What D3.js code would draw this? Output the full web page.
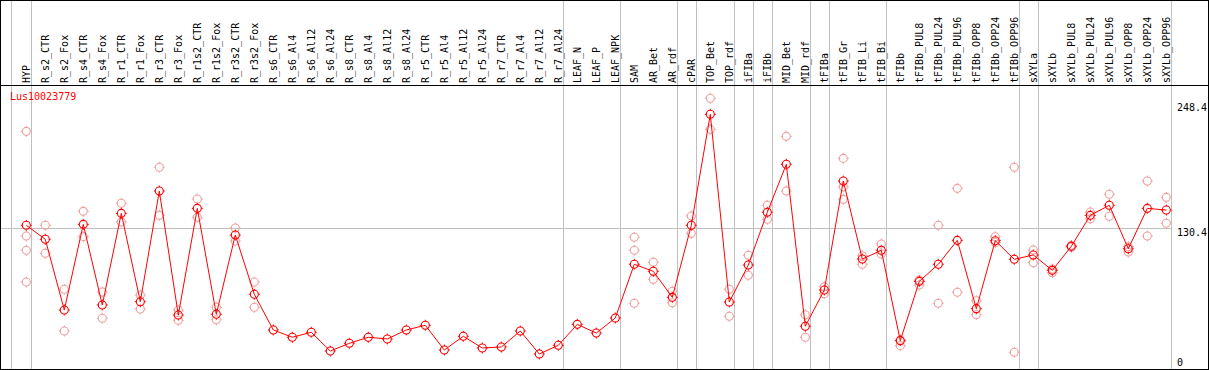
<!DOCTYPE html>
<html>
<head>
<meta charset="utf-8">
<script src="https://cdn.jsdelivr.net/npm/d3@7"></script>
<style>
  body { margin: 0; background: #fff; }
  text { font-family: "DejaVu Sans Mono", monospace; font-size: 10px; }
</style>
</head>
<body>
<div id="chart"></div>
<script>
var geneName = "Lus10023779";

var categories = ["HYP", "R_s2_CTR", "R_s2_Fox", "R_s4_CTR", "R_s4_Fox", "R_r1_CTR", "R_r1_Fox",
  "R_r3_CTR", "R_r3_Fox", "R_r1s2_CTR", "R_r1s2_Fox", "R_r3s2_CTR", "R_r3s2_Fox",
  "R_s6_CTR", "R_s6_Al4", "R_s6_Al12", "R_s6_Al24", "R_s8_CTR", "R_s8_Al4", "R_s8_Al12", "R_s8_Al24",
  "R_r5_CTR", "R_r5_Al4", "R_r5_Al12", "R_r5_Al24", "R_r7_CTR", "R_r7_Al4", "R_r7_Al12", "R_r7_Al24",
  "LEAF_N", "LEAF_P", "LEAF_NPK", "SAM", "AR_Bet", "AR_rdf", "cPAR", "TOP_Bet", "TOP_rdf",
  "iFIBa", "iFIBb", "MID_Bet", "MID_rdf", "tFIBa", "tFIB_Gr", "tFIB_Li", "tFIB_Bi", "tFIBb",
  "tFIBb_PUL8", "tFIBb_PUL24", "tFIBb_PUL96", "tFIBb_OPP8", "tFIBb_OPP24", "tFIBb_OPP96",
  "sXYLa", "sXYLb", "sXYLb_PUL8", "sXYLb_PUL24", "sXYLb_PUL96", "sXYLb_OPP8", "sXYLb_OPP24", "sXYLb_OPP96"];

// mean expression per sample
var means = [133.2, 120.0, 53.2, 134.1, 58.0, 144.5, 61.1, 165.6, 48.5, 149.2, 49.2, 124.0, 68.1,
  34.4, 27.5, 32.2, 14.5, 21.8, 27.5, 25.9, 34.4, 38.8, 15.5, 28.4, 17.4, 18.3, 33.4, 11.7, 19.9,
  39.7, 31.5, 45.7, 96.4, 89.8, 65.2, 133.2, 238.0, 60.8, 95.7, 145.5, 190.8, 37.9, 72.1, 175.0,
  101.4, 109.6, 24.3, 80.3, 96.4, 119.0, 54.5, 118.7, 101.1, 105.2, 90.7, 113.4, 142.6, 152.1,
  111.1, 149.2, 147.6];

// individual replicates
var replicates = [[221.9, 123.1, 109.6, 79.7], [133.2, 106.8], [72.8, 33.4], [146.4, 122.5],
  [70.2, 45.4], [154.0, 136.3], [67.4, 54.2], [188.0, 142.6], [53.2, 43.5], [158.0, 140.8],
  [55.8, 44.1], [130.7, 118.4], [79.7, 55.8],
  [], [], [], [], [], [], [], [], [], [], [], [], [], [], [], [],
  [], [], [], [121.9, 109.6, 59.6], [98.3, 82.2], [70.9, 60.1], [142.0, 125.6], [253.1, 223.8],
  [72.8, 47.3], [104.9, 86.0], [152.1, 138.9], [217.2, 165.6], [48.8, 27.5], [75.2, 68.6],
  [196.4, 169.6, 157.7], [104.5, 96.4], [115.6, 106.1], [19.6, 25.0], [76.8, 81.5],
  [133.2, 59.6], [168.1, 70.0], [62.0, 48.8], [122.4, 117.0], [188.0, 13.3], [109.9, 97.9],
  [88.5, 92.0], [112.5, 114.2], [145.8, 139.4], [162.5, 141.7], [113.0, 108.0], [175.0, 123.1],
  [159.6, 135.1]];

var yTicks = [0, 130.4, 248.4];
var gridValue = 130.4;

// last sample of each tissue group, a separator is drawn after it
var groupEnds = ["HYP", "R_r7_Al24", "LEAF_NPK", "AR_rdf", "cPAR", "TOP_rdf", "iFIBa", "iFIBb",
  "MID_rdf", "tFIBa", "tFIB_Bi", "tFIBb_OPP96", "sXYLa", "sXYLb_OPP96"];

var w = 1209, h = 370;
var headerY = 85.5;

var svg = d3.select("#chart").append("svg")
  .attr("width", w)
  .attr("height", h);

var x = d3.scalePoint()
  .domain(categories)
  .range([26.3, 1166.3]);

var y = d3.scaleLinear()
  .domain([0, 248.4])
  .range([366.4, 103.3]);

var grid = svg.append("g")
  .attr("stroke", "#c0c0c0")
  .attr("shape-rendering", "crispEdges");

// separator before the first sample
grid.append("line")
  .attr("x1", Math.round(x(categories[0]) - 15) + 0.5)
  .attr("x2", Math.round(x(categories[0]) - 15) + 0.5)
  .attr("y1", 0).attr("y2", h);

grid.selectAll(".sep")
  .data(groupEnds)
  .enter()
  .append("line")
  .attr("class", "sep")
  .attr("x1", function (d) { return Math.round(x(d) + 4.4) + 0.5; })
  .attr("x2", function (d) { return Math.round(x(d) + 4.4) + 0.5; })
  .attr("y1", 0).attr("y2", h);

grid.append("line")
  .attr("x1", 1).attr("x2", Math.round(x(categories[categories.length - 1]) + 4.4))
  .attr("y1", Math.round(y(gridValue)) + 0.5)
  .attr("y2", Math.round(y(gridValue)) + 0.5);

// frame and header rule
var frame = svg.append("g")
  .attr("stroke", "#000")
  .attr("fill", "none")
  .attr("shape-rendering", "crispEdges");
frame.append("rect").attr("x", 0.5).attr("y", 0.5).attr("width", w - 1.5).attr("height", h - 1.5);
frame.append("line").attr("x1", 0).attr("x2", w).attr("y1", headerY).attr("y2", headerY);

// rotated sample labels
svg.selectAll(".lab")
  .data(categories)
  .enter()
  .append("text")
  .attr("class", "lab")
  .attr("transform", function (d) {
    return "translate(" + (x(d) + 4) + "," + 83 + ") rotate(-90)";
  })
  .attr("text-anchor", "start")
  .attr("fill", "#000")
  .text(function (d) { return d; });

// right value labels
svg.selectAll(".tick")
  .data(yTicks)
  .enter()
  .append("text")
  .attr("class", "tick")
  .attr("x", 1177)
  .attr("y", function (d) { return Math.min(y(d), 358) + 8; })
  .attr("fill", "#000")
  .text(function (d) { return d; });

svg.append("text")
  .attr("x", 10)
  .attr("y", 100)
  .attr("fill", "red")
  .text(geneName);

// marker: ring with four tiny ticks
function marker(g, cx, cy, color) {
  g.append("circle")
    .attr("cx", cx).attr("cy", cy).attr("r", 4)
    .attr("fill", "none").attr("stroke", color).attr("stroke-width", 1.1);
  g.append("path")
    .attr("d", "M" + cx + "," + (cy - 5.5) + "v1.5M" + cx + "," + (cy + 4) + "v1.5" +
      "M" + (cx - 5.5) + "," + cy + "h1.5M" + (cx + 4) + "," + cy + "h1.5")
    .attr("stroke", color).attr("stroke-width", 1);
}

var pale = svg.append("g");
replicates.forEach(function (reps, i) {
  reps.forEach(function (v) {
    marker(pale, x(categories[i]), y(v), "#f0a0a0");
  });
});

var meanG = svg.append("g");
means.forEach(function (v, i) {
  marker(meanG, x(categories[i]), y(v), "#ff0000");
});

var line = d3.line()
  .x(function (d, i) { return x(categories[i]); })
  .y(function (d) { return y(d); });

svg.append("path")
  .datum(means)
  .attr("d", line)
  .attr("fill", "none")
  .attr("stroke", "#ff0000")
  .attr("stroke-width", 1);
</script>
</body>
</html>
